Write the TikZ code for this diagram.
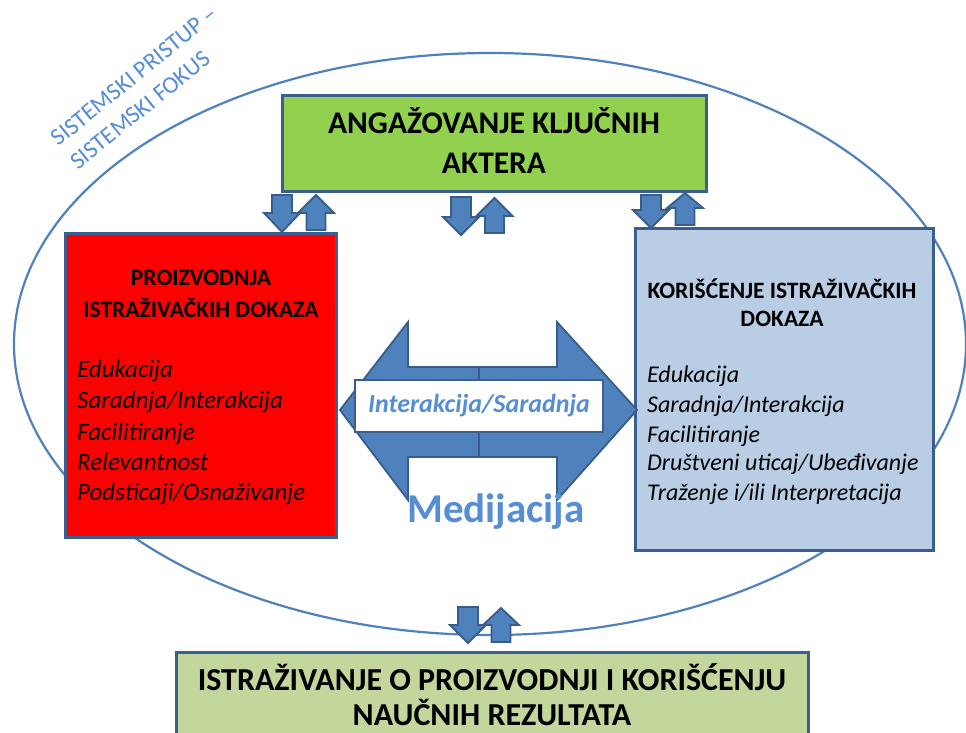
\documentclass[tikz,border=0pt]{standalone}
\usepackage{fontspec}
\setmainfont{Carlito}
\definecolor{boxborder}{RGB}{58,95,142}
\definecolor{arrfill}{RGB}{79,129,189}
\definecolor{arrborder}{RGB}{56,93,138}
\definecolor{ellcol}{RGB}{79,129,189}
\definecolor{labelblue}{RGB}{85,142,213}
\definecolor{topgreen}{RGB}{146,208,80}
\definecolor{lightblue}{RGB}{185,205,229}
\definecolor{redfill}{RGB}{255,0,0}
\definecolor{olive}{RGB}{195,214,155}
\newcommand\mydown[4]{\draw[arr] (#1-10,#2) -- (#1+10,#2) -- (#1+10,#3) -- (#1+18,#3) -- (#1,#4) -- (#1-18,#3) -- (#1-10,#3) -- cycle;}
\newcommand\myup[4]{\draw[arr] (#1,#2) -- (#1+18,#3) -- (#1+9.5,#3) -- (#1+9.5,#4) -- (#1-9.5,#4) -- (#1-9.5,#3) -- (#1-18,#3) -- cycle;}
\begin{document}
\begin{tikzpicture}[x=1pt,y=-1pt,
  box/.style={draw=boxborder, line width=3pt, inner sep=0pt},
  arr/.style={fill=arrfill, draw=arrborder, line width=1.8pt, line join=miter},
  ttl/.style={anchor=base, inner sep=0pt, font=\bfseries\fontsize{#1}{#1}\selectfont},
  itm/.style={anchor=base west, inner sep=0pt, font=\itshape\fontsize{#1}{#1}\selectfont},
  rot/.style={anchor=base, inner sep=0pt, rotate=39, text=labelblue, font=\fontsize{24}{24}\selectfont}]
\clip (0,0) rectangle (966,732);
\fill[white] (0,0) rectangle (966,732);
% system ellipse
\draw[ellcol, line width=2.2pt] (490,344) ellipse [x radius=476, y radius=291];
\node[rot] (sys1) at (139,82) {SISTEMSKI PRISTUP –};
\node[rot] (sys2) at (145,116) {SISTEMSKI FOKUS};
% boxes
\node[box, fill=topgreen, minimum width=424pt, minimum height=96pt] (top) at (494,143) {};
\node[box, fill=redfill, minimum width=271pt, minimum height=304pt] (prod) at (200.5,385) {};
\node[box, fill=lightblue, minimum width=298pt, minimum height=322pt] (use) at (784,389) {};
\node[box, fill=olive, minimum width=632pt, minimum height=108pt] (res) at (492,706) {};
% top box text
\node[ttl=31.5] (t1) at (494,133) {ANGAŽOVANJE KLJUČNIH};
\node[ttl=31.5] (t2) at (494,173) {AKTERA};
% production box text
\node[ttl=23.5] (p1) at (201,285) {PROIZVODNJA};
\node[ttl=23.5] (p2) at (201,317) {ISTRAŽIVAČKIH DOKAZA};
\node[itm=25] (pa) at (77,377) {Edukacija};
\node[itm=25] (pb) at (77,408) {Saradnja/Interakcija};
\node[itm=25] (pc) at (77,440) {Facilitiranje};
\node[itm=25] (pd) at (77,470) {Relevantnost};
\node[itm=25] (pe) at (77,500) {Podsticaji/Osnaživanje};
% use box text
\node[ttl=23.5] (u1) at (782,298) {KORIŠĆENJE ISTRAŽIVAČKIH};
\node[ttl=23.5] (u2) at (782,326) {DOKAZA};
\node[itm=24] (ua) at (647,382) {Edukacija};
\node[itm=24] (ub) at (647,412) {Saradnja/Interakcija};
\node[itm=24] (uc) at (647,442) {Facilitiranje};
\node[itm=24] (ud) at (647,470) {Društveni uticaj/Ubeđivanje};
\node[itm=24] (ue) at (647,500) {Traženje i/ili Interpretacija};
% research box text
\node[ttl=32] (r1) at (492,690) {ISTRAŽIVANJE O PROIZVODNJI I KORIŠĆENJU};
\node[ttl=32] (r2) at (492,725) {NAUČNIH REZULTATA};
% small up/down arrows
\mydown{282}{195}{213}{232}
\myup{316}{195}{213}{230}
\mydown{461}{197}{217}{235}
\myup{494.5}{198}{216}{233}
\mydown{651}{195}{210}{228}
\myup{685}{193}{208}{225}
\mydown{468}{607}{625}{643}
\myup{501}{608}{625}{642}
% mediation double arrow
\draw[arr] (340,410) -- (408,322) -- (408,367) -- (557,367) -- (557,322) -- (637,410) -- (557,500) -- (557,457) -- (408,457) -- (408,500) -- cycle;
\draw[arrborder, line width=1.8pt] (479,367) -- (479,457);
\node[draw=boxborder, line width=2.5pt, fill=white, minimum width=248pt, minimum height=52pt, inner sep=0pt, text=labelblue, font=\bfseries\itshape\fontsize{26}{26}\selectfont] (inter) at (479,406) {Interakcija/Saradnja};
\node[anchor=base, inner sep=0pt, text=labelblue, font=\bfseries\fontsize{41}{41}\selectfont] (med) at (496,522) {Medijacija};
\end{tikzpicture}
\end{document}
